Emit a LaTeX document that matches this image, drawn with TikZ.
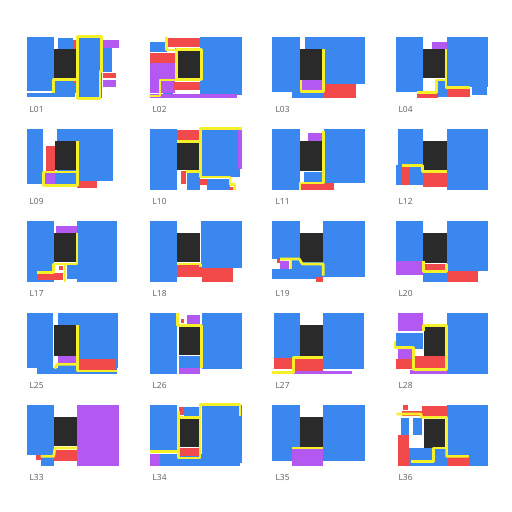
\documentclass[tikz,border=0pt]{standalone}
\usepackage{fontspec}
\setmainfont{Open Sans}
\definecolor{tileblue}{RGB}{59,135,240}
\definecolor{tilered}{RGB}{242,74,74}
\definecolor{tilepurple}{RGB}{180,88,242}
\definecolor{tiledark}{RGB}{42,42,42}
\definecolor{tileyellow}{RGB}{246,240,40}
\definecolor{labelgray}{RGB}{95,95,95}
\begin{document}
\begin{tikzpicture}[
    x=0.75pt,
    y=-0.75pt,
    blu/.style={fill=tileblue},
    rd/.style={fill=tilered},
    pr/.style={fill=tilepurple},
    blk/.style={fill=tiledark},
    ylw/.style={draw=tileyellow, line width=2pt, line join=round},
    lbl/.style={anchor=west, inner sep=0pt, text=labelgray,
        font=\fontsize{6.3}{7}\selectfont}
]
    \useasboundingbox (0,0) rectangle (512,512);
    \fill[white] (0,0) rectangle (512,512);

    % row 1
    \begin{scope}[shift={(27,37)},scale=1/3]
        \fill[blu] (-1,-1) rectangle (82,162);
        \fill[blu] (-1,167) rectangle (144,181);
        \fill[blu] (92,4) rectangle (139,37);
        \fill[blu] (82,124) rectangle (147,167);
        \fill[blu] (154,-1) rectangle (224,184);
        \fill[blu] (224,34) rectangle (254,104);
        \fill[rd] (137,9) rectangle (147,37);
        \fill[rd] (137,129) rectangle (147,139);
        \fill[pr] (224,9) rectangle (276,34);
        \fill[rd] (229,109) rectangle (266,122);
        \fill[pr] (229,129) rectangle (266,151);
        \fill[blk] (82,37) rectangle (147,124);
        \draw[ylw] (79,167) -- (79,127) -- (147,127);
        \draw[ylw] (151,-2) -- (224,-2) -- (224,104) -- (219,104)
            -- (219,184) -- (151,184) -- cycle;
        \node[lbl] (l01) at (7,216) {L01};
    \end{scope}
    \begin{scope}[shift={(150,37)},scale=1/3]
        \fill[blu] (0,14) rectangle (50,44);
        \fill[blu] (75,34) rectangle (85,129);
        \fill[blu] (40,129) rectangle (70,174);
        \fill[blu] (150,-1) rectangle (275,174);
        \fill[rd] (55,4) rectangle (150,29);
        \fill[rd] (0,49) rectangle (75,79);
        \fill[pr] (0,79) rectangle (75,169);
        \fill[rd] (70,134) rectangle (150,159);
        \fill[pr] (0,172) rectangle (260,182);
        \fill[blk] (85,34) rectangle (150,122);
        \draw[ylw] (-2,177) -- (30,177) -- (30,129) -- (80,129) -- (80,37)
            -- (155,37) -- (155,127) -- (80,127);
        \draw[ylw] (50,1) -- (50,39) -- (80,39);
        \node[lbl] (l02) at (7,216) {L02};
    \end{scope}
    \begin{scope}[shift={(273,37)},scale=1/3]
        \fill[blu] (-2,-1) rectangle (81,164);
        \fill[blu] (56,164) rectangle (151,184);
        \fill[blu] (96,-1) rectangle (276,141);
        \fill[blk] (81,37) rectangle (148,129);
        \fill[pr] (86,129) rectangle (148,159);
        \fill[rd] (151,141) rectangle (248,184);
        \draw[ylw] (84,129) -- (84,164) -- (151,164) -- (151,37);
        \node[lbl] (l03) at (7,216) {L03};
    \end{scope}
    \begin{scope}[shift={(396,37)},scale=1/3]
        \fill[blu] (-1,-1) rectangle (82,164);
        \fill[blu] (152,-1) rectangle (275,149);
        \fill[blu] (227,149) rectangle (272,174);
        \fill[blu] (122,129) rectangle (152,179);
        \fill[pr] (107,14) rectangle (152,37);
        \fill[blk] (82,37) rectangle (152,124);
        \fill[rd] (62,169) rectangle (127,182);
        \fill[rd] (152,154) rectangle (222,179);
        \draw[ylw] (62,167) -- (122,167) -- (122,129) -- (150,129);
        \draw[ylw] (150,37) -- (150,151) -- (222,151);
        \node[lbl] (l04) at (7,216) {L04};
    \end{scope}

    % row 2
    \begin{scope}[shift={(27,129)},scale=1/3]
        \fill[blu] (-1,-1) rectangle (49,164);
        \fill[blu] (89,-1) rectangle (257,157);
        \fill[rd] (57,51) rectangle (84,129);
        \fill[blk] (84,37) rectangle (149,124);
        \fill[pr] (51,131) rectangle (84,169);
        \fill[blu] (84,131) rectangle (149,169);
        \fill[rd] (151,157) rectangle (211,177);
        \draw[ylw] (151,37) -- (151,169) -- (49,169) -- (49,129) -- (151,129);
        \node[lbl] (l09) at (7,216) {L09};
    \end{scope}
    \begin{scope}[shift={(150,129)},scale=1/3]
        \fill[blu] (0,-1) rectangle (82,184);
        \fill[rd] (82,4) rectangle (150,34);
        \fill[blu] (155,-1) rectangle (270,144);
        \fill[pr] (265,4) rectangle (275,119);
        \fill[rd] (92,127) rectangle (108,164);
        \fill[blu] (110,131) rectangle (150,184);
        \fill[rd] (150,151) rectangle (170,169);
        \fill[blu] (170,151) rectangle (240,184);
        \fill[rd] (240,174) rectangle (255,184);
        \fill[blk] (82,39) rectangle (150,124);
        \draw[ylw] (275,-1) -- (152,-1) -- (152,144) -- (240,144) -- (240,167)
            -- (253,167) -- (253,184);
        \draw[ylw] (82,37) -- (152,37);
        \draw[ylw] (108,127) -- (152,127);
        \node[lbl] (l10) at (7,216) {L10};
    \end{scope}
    \begin{scope}[shift={(273,129)},scale=1/3]
        \fill[blu] (-2,-1) rectangle (81,184);
        \fill[blu] (154,-1) rectangle (276,161);
        \fill[pr] (106,11) rectangle (146,37);
        \fill[blk] (81,37) rectangle (148,127);
        \fill[blu] (94,129) rectangle (148,159);
        \fill[rd] (84,162) rectangle (184,184);
        \draw[ylw] (81,184) -- (81,162) -- (151,162) -- (151,7);
        \node[lbl] (l11) at (7,216) {L11};
    \end{scope}
    \begin{scope}[shift={(396,129)},scale=1/3]
        \fill[blu] (5,-1) rectangle (82,169);
        \fill[blu] (0,109) rectangle (17,169);
        \fill[blu] (152,-1) rectangle (275,184);
        \fill[blk] (82,37) rectangle (152,124);
        \fill[rd] (17,114) rectangle (39,169);
        \fill[rd] (82,127) rectangle (152,174);
        \draw[ylw] (17,109) -- (79,109) -- (79,127) -- (152,127);
        \node[lbl] (l12) at (7,216) {L12};
    \end{scope}

    % row 3
    \begin{scope}[shift={(27,221)},scale=1/3]
        \fill[blu] (-1,-1) rectangle (82,184);
        \fill[blu] (151,-1) rectangle (271,184);
        \fill[blu] (119,129) rectangle (151,174);
        \fill[pr] (87,14) rectangle (151,37);
        \fill[blk] (82,37) rectangle (147,124);
        \fill[rd] (97,134) rectangle (109,147);
        \fill[rd] (31,157) rectangle (109,177);
        \draw[ylw] (31,154) -- (79,154) -- (79,129) -- (150,129) -- (150,37);
        \draw[ylw] (114,129) -- (114,182);
        \node[lbl] (l17) at (7,216) {L17};
    \end{scope}
    \begin{scope}[shift={(150,221)},scale=1/3]
        \fill[blu] (0,-1) rectangle (82,184);
        \fill[blu] (152,-1) rectangle (275,141);
        \fill[blk] (82,37) rectangle (150,124);
        \fill[rd] (82,129) rectangle (155,169);
        \fill[rd] (155,141) rectangle (250,184);
        \draw[ylw] (82,129) -- (152,129) -- (152,139);
        \node[lbl] (l18) at (7,216) {L18};
    \end{scope}
    \begin{scope}[shift={(273,221)},scale=1/3]
        \fill[blu] (-2,-1) rectangle (81,114);
        \fill[blu] (151,-1) rectangle (276,169);
        \fill[blu] (-2,144) rectangle (151,174);
        \fill[blu] (56,114) rectangle (151,144);
        \fill[blk] (81,37) rectangle (151,124);
        \fill[rd] (11,114) rectangle (21,127);
        \fill[pr] (21,119) rectangle (48,144);
        \fill[rd] (128,167) rectangle (151,184);
        \draw[ylw] (21,114) -- (79,114) -- (88,129) -- (151,129) -- (151,164);
        \draw[ylw] (54,114) -- (54,144);
        \node[lbl] (l19) at (7,216) {L19};
    \end{scope}
    \begin{scope}[shift={(396,221)},scale=1/3]
        \fill[blu] (0,-1) rectangle (82,119);
        \fill[pr] (0,119) rectangle (82,161);
        \fill[blu] (152,-1) rectangle (275,151);
        \fill[blk] (82,37) rectangle (152,127);
        \fill[rd] (82,129) rectangle (152,149);
        \fill[blu] (82,149) rectangle (152,184);
        \fill[rd] (152,151) rectangle (247,184);
        \draw[ylw] (82,119) -- (82,151) -- (152,151) -- (152,129);
        \node[lbl] (l20) at (7,216) {L20};
    \end{scope}

    % row 4
    \begin{scope}[shift={(27,313)},scale=1/3]
        \fill[blu] (-1,-1) rectangle (79,164);
        \fill[blu] (29,164) rectangle (271,184);
        \fill[blu] (92,-1) rectangle (274,164);
        \fill[blk] (82,37) rectangle (147,129);
        \fill[pr] (92,129) rectangle (147,151);
        \fill[rd] (157,139) rectangle (266,171);
        \draw[ylw] (84,167) -- (89,154) -- (150,154);
        \draw[ylw] (151,37) -- (151,174) -- (270,174);
        \node[lbl] (l25) at (7,216) {L25};
    \end{scope}
    \begin{scope}[shift={(150,313)},scale=1/3]
        \fill[blu] (0,-1) rectangle (80,184);
        \fill[blu] (155,-1) rectangle (275,169);
        \fill[rd] (92,19) rectangle (103,31);
        \fill[pr] (110,7) rectangle (150,34);
        \fill[blk] (88,41) rectangle (150,127);
        \fill[blu] (88,129) rectangle (150,164);
        \fill[pr] (88,164) rectangle (150,184);
        \draw[ylw] (82,-1) -- (82,37) -- (155,37) -- (155,164);
        \node[lbl] (l26) at (7,216) {L26};
    \end{scope}
    \begin{scope}[shift={(273,313)},scale=1/3]
        \fill[blu] (4,-1) rectangle (81,134);
        \fill[blu] (151,-1) rectangle (274,169);
        \fill[blk] (81,37) rectangle (151,129);
        \fill[rd] (4,134) rectangle (61,169);
        \fill[rd] (66,139) rectangle (151,174);
        \fill[pr] (61,174) rectangle (238,184);
        \draw[ylw] (-2,179) -- (61,179) -- (61,134) -- (151,134);
        \node[lbl] (l27) at (7,216) {L27};
    \end{scope}
    \begin{scope}[shift={(396,313)},scale=1/3]
        \fill[pr] (5,-1) rectangle (82,54);
        \fill[blu] (0,59) rectangle (82,109);
        \fill[pr] (5,109) rectangle (52,139);
        \fill[rd] (0,139) rectangle (52,169);
        \fill[blk] (85,41) rectangle (147,129);
        \fill[rd] (57,129) rectangle (147,171);
        \fill[pr] (42,171) rectangle (152,184);
        \fill[blu] (152,-1) rectangle (275,184);
        \draw[ylw] (-3,84) -- (-3,104) -- (52,104) -- (52,169) -- (152,169)
            -- (152,37) -- (82,37) -- (82,54);
        \node[lbl] (l28) at (7,216) {L28};
    \end{scope}

    % row 5
    \begin{scope}[shift={(27,405)},scale=1/3]
        \fill[blu] (-1,-1) rectangle (82,151);
        \fill[blu] (41,151) rectangle (82,184);
        \fill[rd] (27,151) rectangle (41,164);
        \fill[blk] (82,37) rectangle (151,124);
        \fill[rd] (82,134) rectangle (151,169);
        \fill[pr] (151,-1) rectangle (276,184);
        \draw[ylw] (41,154) -- (80,154) -- (84,129) -- (151,129);
        \node[lbl] (l33) at (7,216) {L33};
    \end{scope}
    \begin{scope}[shift={(150,405)},scale=1/3]
        \fill[blu] (0,-1) rectangle (82,139);
        \fill[pr] (0,147) rectangle (30,184);
        \fill[blu] (30,147) rectangle (270,184);
        \fill[blu] (155,-1) rectangle (275,174);
        \fill[rd] (88,7) rectangle (102,29);
        \fill[blu] (102,7) rectangle (150,34);
        \fill[blk] (85,41) rectangle (150,127);
        \fill[rd] (88,129) rectangle (150,154);
        \fill[rd] (270,4) rectangle (275,29);
        \draw[ylw] (0,139) -- (85,139);
        \draw[ylw] (85,19) -- (85,159) -- (150,159) -- (150,-1) -- (270,-1)
            -- (270,34);
        \draw[ylw] (85,37) -- (150,37);
        \node[lbl] (l34) at (7,216) {L34};
    \end{scope}
    \begin{scope}[shift={(273,405)},scale=1/3]
        \fill[blu] (-2,-1) rectangle (81,169);
        \fill[blu] (151,-1) rectangle (276,169);
        \fill[blk] (81,37) rectangle (151,127);
        \fill[pr] (56,129) rectangle (151,184);
        \draw[ylw] (56,129) -- (151,129);
        \node[lbl] (l35) at (7,216) {L35};
    \end{scope}
    \begin{scope}[shift={(396,405)},scale=1/3]
        \fill[rd] (22,1) rectangle (37,14);
        \fill[rd] (17,19) rectangle (77,34);
        \fill[rd] (79,4) rectangle (152,34);
        \fill[blu] (15,39) rectangle (39,89);
        \fill[blu] (52,39) rectangle (77,89);
        \fill[rd] (5,89) rectangle (39,184);
        \fill[blu] (39,129) rectangle (152,184);
        \fill[blu] (152,-1) rectangle (275,184);
        \fill[blk] (85,41) rectangle (147,129);
        \fill[rd] (152,154) rectangle (219,184);
        \draw[ylw] (2,27) -- (75,27) -- (77,37) -- (152,37) -- (152,154)
            -- (219,154);
        \draw[ylw] (44,169) -- (112,169) -- (112,129) -- (152,129);
        \node[lbl] (l36) at (7,216) {L36};
    \end{scope}
\end{tikzpicture}
\end{document}
